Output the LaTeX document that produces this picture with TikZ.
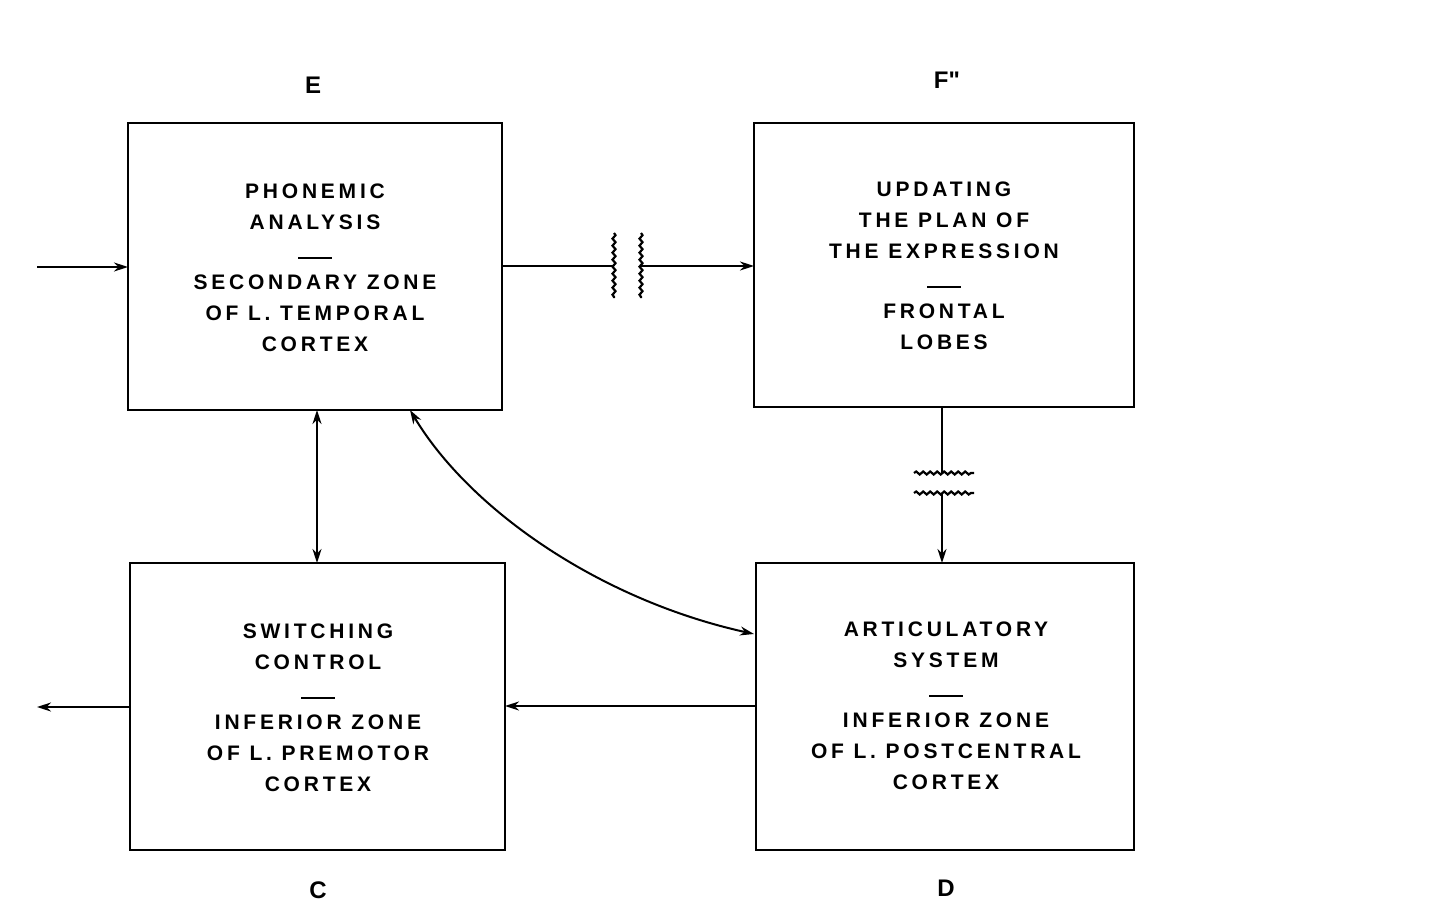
\documentclass[tikz,border=0pt]{standalone}
\usepackage{fontspec}
\setmainfont{Liberation Sans}
\usetikzlibrary{arrows.meta,decorations.pathmorphing}
\begin{document}
\begin{tikzpicture}[x=1pt,y=-1pt,
  box/.style={draw,line width=2.2pt,minimum width=#1},
  txt/.style={font=\fontsize{21}{31}\selectfont\bfseries\addfontfeature{LetterSpace=18},align=center},
  lab/.style={font=\fontsize{24}{28}\selectfont\bfseries},
  con/.style={line width=2pt,-{Stealth[length=14pt,width=9pt]}},
  dcon/.style={line width=2pt,{Stealth[length=14pt,width=9pt]}-{Stealth[length=14pt,width=9pt]}},
  wav/.style={line width=2.2pt,decorate,decoration={snake,amplitude=1.5pt,segment length=7pt}}]
\useasboundingbox (0,0) rectangle (1446,920);
\draw[line width=2.2pt] (128,123) rectangle (502,410);
\draw[line width=2.2pt] (754,123) rectangle (1134,407);
\draw[line width=2.2pt] (130,563) rectangle (505,850);
\draw[line width=2.2pt] (756,563) rectangle (1134,850);
\coordinate (E) at (315,266); \coordinate (F) at (944,266);
\node[txt] (te) at (315,268) {PHONEMIC\\ANALYSIS\\[-2pt]\rule{34pt}{1.8pt}\\SECONDARY ZONE\\OF L. TEMPORAL\\CORTEX};
\node[txt] (tf) at (944,266) {UPDATING\\THE PLAN OF\\THE EXPRESSION\\[-2pt]\rule{34pt}{1.8pt}\\FRONTAL\\LOBES};
\node[txt] (tc) at (318,708) {SWITCHING\\CONTROL\\[-2pt]\rule{34pt}{1.8pt}\\INFERIOR ZONE\\OF L. PREMOTOR\\CORTEX};
\node[txt] (td) at (946,706) {ARTICULATORY\\SYSTEM\\[-2pt]\rule{34pt}{1.8pt}\\INFERIOR ZONE\\OF L. POSTCENTRAL\\CORTEX};
\node[lab] (le) at (313,85) {E};
\node[lab] (lf) at (947,80) {F\textquotedbl};
\node[lab] (lc) at (318,890) {C};
\node[lab] (ld) at (946,888) {D};
% connectors
\coordinate (in0) at (37,267); \coordinate (inE) at (128,267);
\draw[con] (in0) -- (inE);
\coordinate (eR) at (502,266); \coordinate (w1) at (614,266); \coordinate (w2) at (641,266); \coordinate (fL) at (754,266);
\draw[line width=2pt] (eR) -- (w1);
\draw[con] (w2) -- (fL);
\draw[wav] (614,233) -- (614,298);
\draw[wav] (641,233) -- (641,298);
\coordinate (fB) at (942,407); \coordinate (dT) at (942,563);
\draw[line width=2pt] (fB) -- (942,473);
\draw[con] (942,493) -- (dT);
\draw[wav] (914,473) -- (974,473);
\draw[wav] (914,493) -- (974,493);
\coordinate (eB) at (317,410); \coordinate (cT) at (317,563);
\draw[dcon] (eB) -- (cT);
\coordinate (eC) at (410,410); \coordinate (dL) at (754,634);
\draw[dcon] (eC) .. controls (470,510) and (600,600) .. (dL);
\coordinate (dW) at (756,706); \coordinate (cE) at (505,706);
\draw[con] (dW) -- (cE);
\coordinate (cW) at (130,707); \coordinate (out) at (37,707);
\draw[con] (cW) -- (out);
\end{tikzpicture}
\end{document}
